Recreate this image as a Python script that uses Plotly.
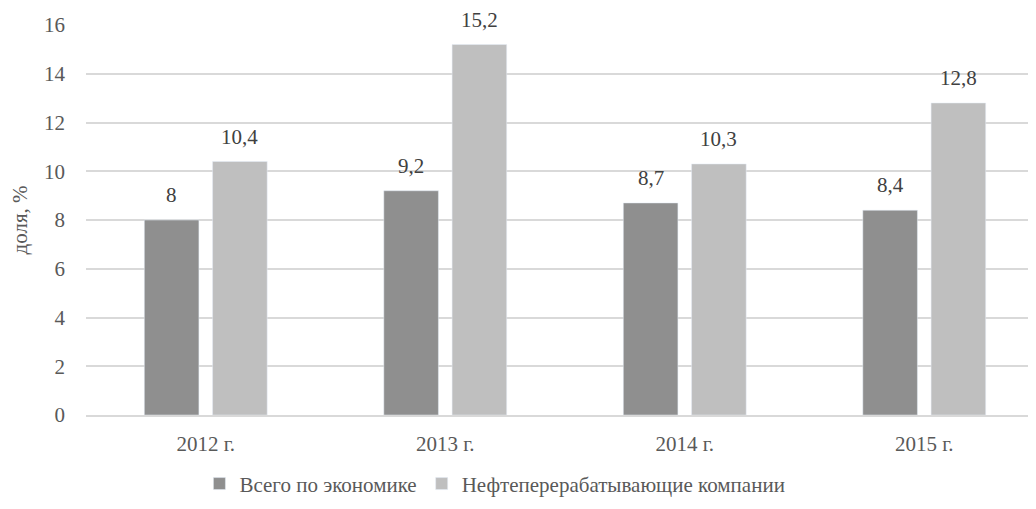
import plotly.graph_objects as go

years = ["2012 г.", "2013 г.", "2014 г.", "2015 г."]
economy = [8, 9.2, 8.7, 8.4]
refining = [10.4, 15.2, 10.3, 12.8]
y_ticks = [0, 2, 4, 6, 8, 10, 12, 14, 16]

FONT = "Liberation Serif, Times New Roman, serif"
TEXT = "#595959"


def fmt(v):
    return f"{v:g}".replace(".", ",")


fig = go.Figure()
fig.add_trace(go.Bar(x=years, y=economy, name="Всего по экономике",
                     marker=dict(color="#8f8f8f")))
fig.add_trace(go.Bar(x=years, y=refining, name="Нефтеперерабатывающие компании",
                     marker=dict(color="#bfbfbf")))

# value labels above each bar
for series, shift in ((economy, -34), (refining, 34)):
    for year, v in zip(years, series):
        fig.add_annotation(x=year, y=v, text=fmt(v), showarrow=False,
                           xshift=shift, yshift=11, yanchor="bottom",
                           font=dict(family=FONT, size=21, color="#404040"))

fig.update_layout(
    width=1036, height=509,
    margin=dict(l=78, r=0, t=17, b=102, autoexpand=False),
    paper_bgcolor="white", plot_bgcolor="white",
    font=dict(family=FONT, size=21, color=TEXT),
    barmode="group", bargap=0.43, bargroupgap=0.2,
    legend=dict(
        orientation="h", xref="container", yref="container",
        x=0.47, xanchor="center", y=0.065, yanchor="middle",
        font=dict(family=FONT, size=21, color=TEXT),
        traceorder="normal", itemwidth=30,
    ),
    xaxis=dict(
        showgrid=False, showline=True, linecolor="#d9d9d9", linewidth=1.5,
        ticks="", ticklabelstandoff=9, automargin=False,
        tickfont=dict(family=FONT, size=21, color=TEXT),
    ),
    yaxis=dict(
        range=[0, 16], tickvals=y_ticks,
        showgrid=True, gridcolor="#d9d9d9", gridwidth=1.5,
        zeroline=False, showline=False, ticks="", ticklabelstandoff=20,
        automargin=False,
        tickfont=dict(family=FONT, size=21, color=TEXT),
        title=dict(text="доля, %", font=dict(family=FONT, size=21, color=TEXT), standoff=10),
    ),
)

fig.write_html("out.html")
